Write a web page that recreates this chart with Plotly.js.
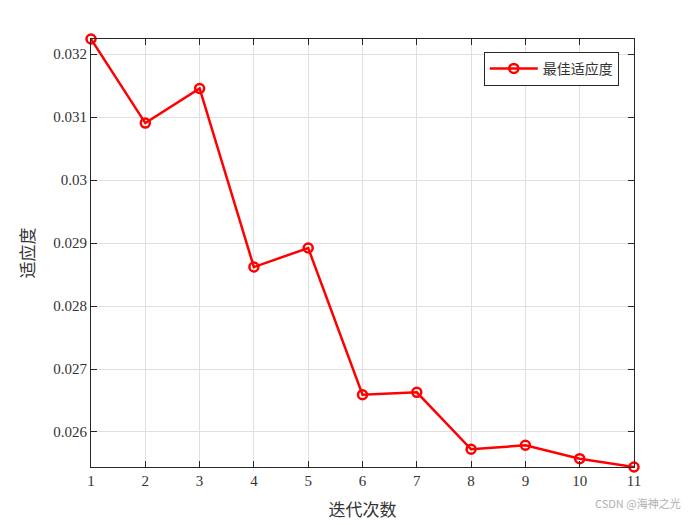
<!DOCTYPE html>
<html>
<head>
<meta charset="utf-8">
<script src="https://cdn.plot.ly/plotly-3.0.1.min.js"></script>
<style>body{margin:0;background:#fff;} #chart{width:700px;height:525px;}</style>
</head>
<body>
<div id="chart"></div>
<script>
// iteration numbers and best fitness
let iterations = [1, 2, 3, 4, 5, 6, 7, 8, 9, 10, 11];
let bestFitness = [0.03224, 0.030905, 0.031454, 0.028619, 0.028921, 0.026592, 0.026629, 0.025725, 0.025789, 0.025576, 0.025444];
let yTickVals = [0.026, 0.027, 0.028, 0.029, 0.030, 0.031, 0.032];
let yTickText = ['0.026', '0.027', '0.028', '0.029', '0.03', '0.031', '0.032'];
let xTickVals = [1, 2, 3, 4, 5, 6, 7, 8, 9, 10, 11];

const serif = '"Liberation Serif", "Noto Sans CJK SC", serif';

var data = [{
    x: iterations,
    y: bestFitness,
    type: 'scatter',
    mode: 'lines+markers',
    name: '最佳适应度',
    line: {color: '#ff0000', width: 2.5},
    marker: {symbol: 'circle-open', size: 9, color: '#ff0000', line: {width: 2.5, color: '#ff0000'}},
    cliponaxis: false
}]

var axisCommon = {
    showline: true,
    linecolor: '#262626',
    linewidth: 1,
    mirror: 'ticks',
    ticks: 'inside',
    ticklen: 6,
    tickcolor: '#262626',
    showgrid: true,
    gridcolor: '#e0e0e0',
    gridwidth: 1,
    zeroline: false,
    tickfont: {family: serif, size: 15, color: '#333'}
}

var layout = {
    width: 700,
    height: 525,
    paper_bgcolor: '#fff',
    plot_bgcolor: '#fff',
    margin: {l: 91, r: 66, t: 39, b: 58},
    showlegend: true,
    xaxis: Object.assign({}, axisCommon, {
        range: [1, 11],
        tickvals: xTickVals,
        title: {text: '迭代次数', font: {family: '"Noto Sans CJK SC", serif', size: 17, color: '#333'}, standoff: 16}
    }),
    yaxis: Object.assign({}, axisCommon, {
        range: [0.025444, 0.03224],
        tickvals: yTickVals,
        ticktext: yTickText,
        title: {text: '适应度', font: {family: '"Noto Sans CJK SC", serif', size: 17, color: '#333'}, standoff: 14}
    }),
    legend: {
        x: 0.972, y: 0.97,
        xanchor: 'right', yanchor: 'top',
        bgcolor: '#fff',
        bordercolor: '#262626',
        borderwidth: 1,
        itemwidth: 48,
        font: {family: '"Noto Sans CJK SC", serif', size: 14, color: '#333'}
    },
    annotations: [{
        text: 'CSDN @海神之光',
        xref: 'paper', yref: 'paper',
        x: 1.09, y: -0.085,
        xanchor: 'right', yanchor: 'middle',
        showarrow: false,
        font: {family: '"Noto Sans CJK SC", sans-serif', size: 11, color: '#b0b0b0'}
    }]
}

Plotly.newPlot('chart', data, layout, {displayModeBar: false})
</script>
</body>
</html>
